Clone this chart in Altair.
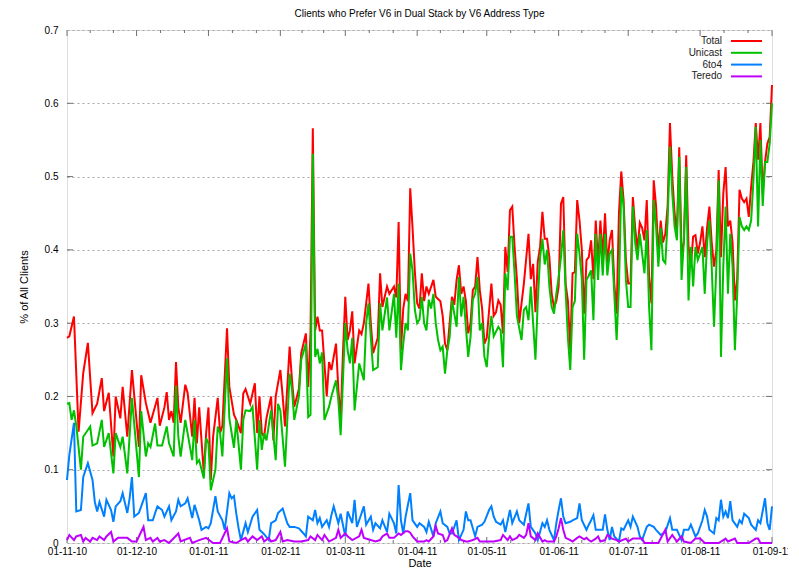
import altair as alt
import pandas as pd

# ---------------- data (day offset from 2010-11-01, value) ----------------
total_days = [0,1,3,5,7,9,11,13,15,16,18,20,21,23,24,26,28,31,32,34,36,39,40,42,43,44,45,46,47,48,49,51,52,54,55,56,57,59,60,61,62,63,65,66,67,69,70,72,73,75,76,77,79,81,82,83,84,85,86,88,89,90,92,93,94,96,97,98,100,101,103,104,105,106,107,108,109,110,112,113,114,116,117,118,119,120,121,122,123,124,126,127,128,130,131,132,134,135,136,138,139,141,142,143,144,145,146,147,148,149,150,151,152,153,154,155,156,158,159,161,162,163,164,165,166,167,168,169,170,171,172,173,174,175,176,177,178,179,180,181,183,184,185,186,187,188,189,190,191,192,193,194,195,196,197,199,200,201,202,203,204,205,206,207,208,209,210,211,212,213,214,215,216,217,218,219,220,221,222,223,224,225,226,227,228,229,230,231,232,233,234,235,236,237,238,239,240,241,242,243,244,245,246,247,248,249,250,251,252,253,254,255,256,257,258,259,260,261,262,263,264,265,266,267,268,269,270,271,272,273,274,275,276,277,278,279,280,281,282,283,284,285,286,287,288,289,290,291,292,293,294,295,296,297,298,299,300,301,302,303,304]
total_vals = [0.28,0.282,0.309,0.152,0.232,0.273,0.177,0.19,0.225,0.18,0.205,0.118,0.2,0.17,0.213,0.145,0.236,0.131,0.229,0.191,0.164,0.198,0.16,0.185,0.206,0.168,0.18,0.164,0.247,0.185,0.164,0.216,0.205,0.145,0.198,0.136,0.185,0.095,0.15,0.185,0.086,0.145,0.198,0.15,0.16,0.293,0.213,0.175,0.168,0.15,0.204,0.21,0.19,0.218,0.15,0.2,0.15,0.145,0.17,0.2,0.14,0.2,0.236,0.2,0.159,0.268,0.223,0.186,0.21,0.259,0.286,0.213,0.286,0.566,0.29,0.309,0.29,0.29,0.2,0.247,0.236,0.272,0.21,0.168,0.26,0.336,0.277,0.29,0.316,0.245,0.29,0.285,0.3,0.354,0.3,0.259,0.28,0.368,0.322,0.35,0.34,0.35,0.335,0.438,0.263,0.32,0.34,0.33,0.484,0.43,0.37,0.327,0.32,0.368,0.33,0.35,0.34,0.359,0.336,0.33,0.31,0.272,0.263,0.3,0.336,0.325,0.359,0.379,0.34,0.35,0.33,0.286,0.3,0.345,0.35,0.39,0.345,0.32,0.272,0.28,0.354,0.31,0.315,0.331,0.325,0.286,0.404,0.37,0.454,0.459,0.404,0.36,0.3,0.327,0.354,0.422,0.36,0.381,0.315,0.384,0.404,0.452,0.415,0.415,0.39,0.34,0.322,0.33,0.35,0.463,0.472,0.354,0.33,0.263,0.368,0.37,0.468,0.44,0.4,0.313,0.386,0.39,0.413,0.36,0.44,0.38,0.44,0.39,0.45,0.38,0.413,0.427,0.354,0.313,0.45,0.507,0.468,0.386,0.354,0.354,0.472,0.43,0.4,0.437,0.43,0.413,0.468,0.364,0.327,0.495,0.46,0.395,0.44,0.41,0.422,0.46,0.573,0.5,0.45,0.422,0.54,0.395,0.41,0.529,0.405,0.377,0.418,0.42,0.395,0.41,0.432,0.39,0.43,0.459,0.41,0.377,0.4,0.509,0.39,0.477,0.513,0.432,0.44,0.41,0.331,0.36,0.482,0.47,0.465,0.47,0.445,0.486,0.52,0.573,0.523,0.573,0.477,0.52,0.545,0.554,0.625]

unicast_days = [0,1,2,3,4,6,7,10,11,13,15,16,18,20,21,23,24,26,28,31,32,34,35,36,38,39,41,43,44,46,47,48,49,51,52,54,55,56,57,59,60,61,62,64,65,66,67,69,70,72,73,75,76,77,79,80,82,83,84,85,86,88,90,91,92,94,96,97,98,100,101,103,104,105,106,107,108,109,110,111,113,114,116,117,118,120,121,122,123,124,126,128,129,130,131,132,134,135,136,138,139,141,142,143,144,145,146,147,148,149,150,151,152,153,154,155,156,157,158,159,160,161,162,163,164,165,166,168,169,170,171,172,173,174,175,176,177,178,179,180,181,182,183,184,186,187,188,189,190,191,192,193,194,196,197,198,199,200,201,202,203,204,205,206,207,208,209,210,211,212,213,214,215,216,217,218,219,220,221,222,223,224,225,226,227,228,229,230,231,232,233,234,235,236,237,238,239,240,241,242,243,244,245,246,247,248,249,250,251,252,253,254,255,256,257,258,259,260,261,262,263,264,265,266,267,268,269,270,271,272,273,274,275,276,277,278,279,280,281,282,283,284,285,286,287,288,289,290,291,292,293,294,295,296,297,298,299,300,301,302,303,304]
unicast_vals = [0.19,0.191,0.168,0.181,0.16,0.1,0.145,0.159,0.133,0.136,0.168,0.131,0.15,0.095,0.15,0.131,0.145,0.095,0.198,0.09,0.18,0.118,0.136,0.131,0.163,0.133,0.133,0.159,0.136,0.118,0.215,0.145,0.118,0.168,0.15,0.113,0.168,0.109,0.113,0.088,0.143,0.136,0.072,0.1,0.159,0.15,0.118,0.252,0.17,0.13,0.168,0.1,0.168,0.181,0.18,0.186,0.1,0.168,0.127,0.15,0.14,0.181,0.113,0.19,0.181,0.104,0.231,0.21,0.168,0.2,0.25,0.272,0.172,0.175,0.531,0.254,0.265,0.245,0.26,0.168,0.186,0.2,0.222,0.195,0.147,0.3,0.263,0.245,0.28,0.181,0.245,0.222,0.3,0.327,0.281,0.236,0.24,0.327,0.29,0.335,0.29,0.34,0.28,0.354,0.236,0.272,0.3,0.29,0.395,0.372,0.318,0.3,0.305,0.336,0.3,0.29,0.332,0.32,0.34,0.3,0.277,0.263,0.268,0.231,0.263,0.281,0.331,0.295,0.363,0.309,0.336,0.295,0.254,0.281,0.332,0.34,0.363,0.29,0.3,0.254,0.24,0.281,0.31,0.282,0.295,0.29,0.24,0.368,0.345,0.418,0.418,0.368,0.31,0.277,0.318,0.322,0.304,0.35,0.3,0.25,0.33,0.39,0.415,0.38,0.4,0.35,0.322,0.313,0.34,0.363,0.39,0.427,0.345,0.28,0.236,0.322,0.33,0.422,0.395,0.36,0.25,0.359,0.365,0.372,0.304,0.422,0.359,0.422,0.365,0.422,0.365,0.395,0.4,0.34,0.277,0.35,0.486,0.459,0.359,0.322,0.322,0.459,0.41,0.386,0.422,0.395,0.368,0.427,0.322,0.263,0.468,0.432,0.377,0.43,0.386,0.382,0.44,0.541,0.477,0.432,0.413,0.527,0.359,0.413,0.513,0.331,0.404,0.35,0.404,0.386,0.395,0.404,0.34,0.41,0.44,0.377,0.295,0.377,0.495,0.254,0.377,0.459,0.34,0.422,0.377,0.263,0.34,0.445,0.432,0.427,0.432,0.427,0.44,0.495,0.568,0.432,0.55,0.46,0.52,0.52,0.545,0.6]

six_to_four_days = [0,1,3,4,6,7,9,11,12,13,14,16,17,19,20,21,23,24,26,27,28,29,31,32,34,35,37,38,39,41,42,44,45,47,48,49,51,52,54,55,57,58,60,61,62,64,65,67,68,70,71,72,73,74,75,77,78,80,82,83,85,87,88,90,91,93,95,96,98,100,102,103,104,106,107,108,109,110,112,113,114,115,117,118,120,121,123,124,125,126,128,129,131,132,133,135,136,138,139,141,142,143,144,145,146,148,149,151,152,154,155,156,158,159,161,162,164,165,166,168,169,171,172,173,174,176,177,179,180,182,183,184,185,187,188,189,191,192,194,195,197,198,199,200,202,203,205,206,207,208,210,211,212,213,214,215,217,218,220,221,222,224,225,226,227,228,230,231,232,233,234,235,236,238,239,240,242,243,244,246,247,248,250,251,253,254,256,257,258,260,261,262,263,265,266,268,269,271,272,274,275,276,277,279,280,281,282,283,284,285,286,287,289,290,291,292,294,295,297,298,299,301,302,303,304]
six_to_four_vals = [0.086,0.12,0.164,0.043,0.045,0.09,0.109,0.086,0.056,0.043,0.056,0.036,0.059,0.045,0.029,0.05,0.057,0.068,0.041,0.061,0.09,0.036,0.041,0.05,0.068,0.031,0.031,0.041,0.05,0.045,0.036,0.05,0.031,0.043,0.059,0.05,0.054,0.061,0.034,0.052,0.031,0.018,0.022,0.02,0.027,0.064,0.043,0.031,0.018,0.068,0.061,0.064,0.04,0.02,0.004,0.027,0.015,0.036,0.045,0.018,0.012,0.004,0.027,0.031,0.041,0.047,0.027,0.022,0.022,0.02,0.013,0.009,0.036,0.031,0.045,0.027,0.034,0.022,0.031,0.022,0.038,0.05,0.027,0.04,0.009,0.043,0.027,0.059,0.022,0.031,0.05,0.025,0.036,0.018,0.027,0.02,0.031,0.015,0.04,0.027,0.013,0.079,0.031,0.013,0.036,0.068,0.031,0.022,0.027,0.022,0.015,0.029,0.009,0.027,0.043,0.027,0.022,0.013,0.013,0.031,0.004,0.018,0.043,0.031,0.031,0.009,0.022,0.025,0.029,0.045,0.05,0.036,0.029,0.025,0.031,0.015,0.045,0.027,0.043,0.031,0.025,0.04,0.054,0.022,0.013,0.004,0.027,0.022,0.031,0.018,0.004,0.027,0.045,0.061,0.036,0.027,0.029,0.031,0.034,0.054,0.031,0.018,0.025,0.031,0.038,0.018,0.018,0.018,0.039,0.018,0.004,0.022,0.009,0.002,0.02,0.018,0.031,0.022,0.036,0.022,0.009,0.004,0.022,0.025,0.022,0.018,0.011,0.013,0.015,0.034,0.018,0.018,0.018,0.004,0.018,0.018,0.025,0.009,0.013,0.031,0.045,0.036,0.018,0.013,0.034,0.031,0.059,0.036,0.043,0.034,0.057,0.031,0.022,0.031,0.027,0.04,0.034,0.025,0.018,0.031,0.027,0.061,0.027,0.018,0.05]

teredo_days = [0,1,3,4,6,7,8,10,11,13,14,16,17,19,20,22,24,26,28,30,33,34,36,37,39,40,42,44,48,49,53,54,57,60,63,66,69,70,73,75,77,78,80,82,84,85,87,88,90,92,93,95,98,101,104,105,107,108,110,111,113,116,117,118,120,121,123,126,127,128,131,133,135,136,138,139,141,143,144,146,147,148,149,151,154,155,156,158,159,160,162,163,164,166,167,169,170,172,173,175,177,178,181,184,187,188,190,191,192,194,195,197,198,199,200,202,203,205,206,207,210,211,212,213,214,215,217,218,220,221,223,224,225,226,228,229,230,232,233,234,235,237,238,241,242,244,246,248,249,252,255,258,259,261,263,265,266,269,271,273,275,281,284,285,288,289,294,297,298,299,304]
teredo_vals = [0.004,0.011,0.004,0.009,0.011,0.002,0.007,0.002,0.007,0.004,0.009,0.004,0.009,0.015,0.002,0.007,0.007,0.007,0.002,0.002,0.022,0.004,0.007,0.002,0.007,0.002,0.004,0.0,0.013,0.002,0.007,0.0,0.004,0.007,0.0,0.0,0.02,0.002,0.0,0.004,0.007,0.002,0.009,0.004,0.009,0.002,0.007,0.002,0.004,0.015,0.002,0.004,0.002,0.002,0.004,0.009,0.004,0.011,0.004,0.011,0.002,0.007,0.018,0.007,0.013,0.009,0.004,0.009,0.018,0.007,0.004,0.002,0.004,0.009,0.013,0.007,0.007,0.013,0.011,0.016,0.016,0.014,0.009,0.002,0.002,0.004,0.002,0.009,0.023,0.013,0.011,0.002,0.004,0.02,0.011,0.007,0.004,0.002,0.002,0.004,0.007,0.002,0.002,0.002,0.004,0.011,0.004,0.009,0.004,0.007,0.011,0.007,0.011,0.027,0.009,0.004,0.013,0.002,0.004,0.002,0.002,0.009,0.02,0.034,0.018,0.007,0.004,0.002,0.007,0.009,0.005,0.007,0.004,0.002,0.006,0.009,0.002,0.004,0.011,0.009,0.006,0.004,0.002,0.006,0.002,0.006,0.006,0.006,0.0,0.0,0.0,0.018,0.002,0.011,0.002,0.009,0.002,0.0,0.006,0.006,0.0,0.0,0.006,0.002,0.006,0.0,0.0,0.006,0.006,0.0,0.0]

series_names = ["Total", "Unicast", "6to4", "Teredo"]
series_colors = ["#ff0000", "#00c000", "#0080ff", "#c000ff"]
y_ticks = [0, 0.1, 0.2, 0.3, 0.4, 0.5, 0.6, 0.7]
x_tick_months = [(2010, 11), (2010, 12), (2011, 1), (2011, 2), (2011, 3), (2011, 4),
                 (2011, 5), (2011, 6), (2011, 7), (2011, 8), (2011, 9)]

# ---------------- build tables ----------------
start = pd.Timestamp("2010-11-01")
frames = []
for name, days, vals in [("Total", total_days, total_vals),
                         ("Unicast", unicast_days, unicast_vals),
                         ("6to4", six_to_four_days, six_to_four_vals),
                         ("Teredo", teredo_days, teredo_vals)]:
    frames.append(pd.DataFrame({
        "date": start + pd.to_timedelta(days, unit="D"),
        "value": vals,
        "series": name,
    }))
df = pd.concat(frames, ignore_index=True)

major_dates = [pd.Timestamp(y, m, 1) for y, m in x_tick_months]
minor_dates = []
for a, b in zip(major_dates[:-1], major_dates[1:]):
    minor_dates += [a + (b - a) / 3, a + 2 * (b - a) / 3]
major_df = pd.DataFrame({"date": major_dates})
minor_df = pd.DataFrame({"date": minor_dates})
ytick_df = pd.DataFrame({"value": y_ticks[1:-1]})
legend_df = pd.DataFrame({"series": series_names, "color": series_colors})

FONT = "Liberation Sans"
W, H = 705, 513
TICK = "#707070"

x_enc = alt.X(
    "date:T",
    scale=alt.Scale(domain=[alt.DateTime(year=2010, month=11, date=1),
                            alt.DateTime(year=2011, month=9, date=1)], nice=False),
    axis=alt.Axis(values=[alt.DateTime(year=y, month=m, date=1) for y, m in x_tick_months],
                  format="%d-%m-%y", title="Date", grid=False, ticks=False, domain=False,
                  labelPadding=3, titlePadding=1, labelFlush=False, labelOverlap=False,
                  titleFontWeight="normal"),
)
y_enc = alt.Y(
    "value:Q",
    scale=alt.Scale(domain=[0, 0.7], nice=False),
    axis=alt.Axis(values=y_ticks, format=".1~f", title="% of All Clients", grid=True,
                  gridDash=[2, 3], gridColor="#a8a8a8", gridWidth=1, ticks=False,
                  domain=False, labelPadding=9, titlePadding=15, titleFontWeight="normal"),
)
color_enc = alt.Color("series:N",
                      scale=alt.Scale(domain=series_names, range=series_colors),
                      legend=None)

layers = []
# inward tick marks (gnuplot style)
layers.append(alt.Chart(major_df).mark_rule(color=TICK, strokeWidth=1)
              .encode(x=x_enc, y=alt.value(H), y2=alt.value(H - 6)))
layers.append(alt.Chart(major_df).mark_rule(color=TICK, strokeWidth=1)
              .encode(x=x_enc, y=alt.value(0), y2=alt.value(6)))
layers.append(alt.Chart(minor_df).mark_rule(color=TICK, strokeWidth=1)
              .encode(x=x_enc, y=alt.value(H), y2=alt.value(H - 3)))
layers.append(alt.Chart(minor_df).mark_rule(color=TICK, strokeWidth=1)
              .encode(x=x_enc, y=alt.value(0), y2=alt.value(3)))
layers.append(alt.Chart(ytick_df).mark_rule(color=TICK, strokeWidth=1)
              .encode(y=y_enc, x=alt.value(0), x2=alt.value(6)))
layers.append(alt.Chart(ytick_df).mark_rule(color=TICK, strokeWidth=1)
              .encode(y=y_enc, x=alt.value(W), x2=alt.value(W - 6)))

for name in series_names:
    layers.append(
        alt.Chart(df)
        .transform_filter(alt.datum.series == name)
        .mark_line(strokeWidth=2, interpolate="linear")
        .encode(x=x_enc, y=y_enc, color=color_enc)
    )

# legend (top right, gnuplot style: label then line sample)
for i, name in enumerate(series_names):
    ypos = 11 + 11.8 * i
    sub = alt.Chart(legend_df).transform_filter(alt.datum.series == name)
    layers.append(sub.mark_text(align="right", baseline="middle", fontSize=10,
                                font=FONT, color="#222222")
                  .encode(text="series:N", x=alt.value(655), y=alt.value(ypos)))
    layers.append(sub.mark_rule(strokeWidth=2, color=series_colors[i])
                  .encode(x=alt.value(664), x2=alt.value(695), y=alt.value(ypos)))

chart = (
    alt.layer(*layers)
    .properties(
        width=W, height=H,
        title=alt.TitleParams("Clients who Prefer V6 in Dual Stack by V6 Address Type",
                              fontSize=10, fontWeight="normal", anchor="middle",
                              offset=6, font=FONT, color="#000000"),
        autosize=alt.AutoSizeParams(type="none"),
        padding={"left": 59, "top": 22, "right": 16, "bottom": 24},
    )
    .configure_view(stroke="#000000", strokeWidth=1)
    .configure_axis(labelFont=FONT, titleFont=FONT, labelFontSize=10, titleFontSize=10,
                    titleFontWeight="normal", labelColor="#000000", titleColor="#000000")
    .configure(background="white")
)

chart.save("out.html", embed_options={"renderer": "svg", "actions": False})
